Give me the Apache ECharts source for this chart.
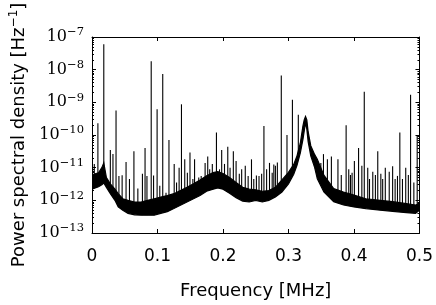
<!DOCTYPE html>
<html><head><meta charset="utf-8">
<script src="https://cdn.jsdelivr.net/npm/echarts@6/dist/echarts.min.js"></script>
<style>html,body{margin:0;padding:0;background:#fff}#c{width:436px;height:305px}</style>
</head><body><div id="c"></div>
<script>
// Noise floor envelope (MHz, Hz^-1)
const bandFreq = [0.000,0.005,0.010,0.015,0.018,0.022,0.028,0.035,0.040,0.047,0.055,0.065,0.075,0.085,0.095,0.105,0.115,0.125,0.135,0.145,0.155,0.165,0.175,0.185,0.192,0.200,0.210,0.220,0.230,0.240,0.250,0.260,0.270,0.280,0.290,0.300,0.308,0.313,0.318,0.322,0.324,0.326,0.328,0.330,0.334,0.340,0.344,0.354,0.369,0.384,0.400,0.418,0.440,0.459,0.480,0.494,0.500];
const bandLow  = [2.2e-12,2.4e-12,2.6e-12,3.0e-12,3.4e-12,2.5e-12,1.6e-12,1.0e-12,6.3e-13,5.0e-13,4.0e-13,3.6e-13,3.5e-13,3.5e-13,3.5e-13,4.0e-13,4.5e-13,5.6e-13,7.1e-13,8.9e-13,1.12e-12,1.4e-12,1.9e-12,2.2e-12,2.4e-12,2.2e-12,1.66e-12,1.2e-12,9.5e-13,8.9e-13,1.0e-12,8.9e-13,1.0e-12,1.26e-12,1.8e-12,3.2e-12,6.3e-12,1.17e-11,2.8e-11,7.2e-11,1.3e-10,2.4e-10,1.5e-10,6.3e-11,2.3e-11,1.0e-11,4.6e-12,1.8e-12,9.1e-13,7.2e-13,6.3e-13,5.6e-13,5.0e-13,4.6e-13,4.2e-13,4.0e-13,5.0e-13];
const bandHigh = [5.8e-12,6.5e-12,7.0e-12,1.0e-11,1.4e-11,5.0e-12,3.2e-12,2.2e-12,1.6e-12,1.12e-12,1.0e-12,8.9e-13,8.9e-13,1.0e-12,1.12e-12,1.26e-12,1.4e-12,1.6e-12,2.0e-12,2.5e-12,3.2e-12,4.2e-12,5.6e-12,7.1e-12,7.6e-12,6.6e-12,5.0e-12,3.5e-12,2.5e-12,2.2e-12,2.1e-12,1.9e-12,2.0e-12,2.5e-12,4.2e-12,7.2e-12,1.26e-11,2.3e-11,5.6e-11,1.86e-10,2.9e-10,3.7e-10,2.9e-10,1.26e-10,4.7e-11,2.5e-11,1.8e-11,5.9e-12,2.3e-12,1.8e-12,1.45e-12,1.12e-12,1.0e-12,9.1e-13,7.9e-13,7.2e-13,7.9e-13];
// Narrow spectral lines (MHz, Hz^-1)
const spikeFreq = [0.0035,0.009,0.018,0.028,0.032,0.0367,0.0411,0.046,0.052,0.0572,0.064,0.070,0.077,0.081,0.0839,0.0904,0.094,0.0994,0.1035,0.108,0.113,0.1175,0.1255,0.1291,0.133,0.1366,0.1416,0.1456,0.1496,0.154,0.1566,0.163,0.1667,0.1727,0.1767,0.1797,0.1837,0.190,0.1947,0.198,0.2023,0.2073,0.2108,0.2158,0.220,0.2249,0.2285,0.234,0.2384,0.2435,0.247,0.251,0.255,0.259,0.2625,0.2666,0.271,0.2751,0.2776,0.280,0.283,0.289,0.2977,0.306,0.315,0.3394,0.3469,0.3494,0.3534,0.3594,0.3655,0.3755,0.3806,0.388,0.392,0.3946,0.3971,0.4006,0.407,0.412,0.4157,0.421,0.4237,0.4287,0.4327,0.4363,0.441,0.4438,0.4478,0.4538,0.459,0.4628,0.4664,0.470,0.474,0.479,0.483,0.4864,0.4914,0.4965];
const spikePeak = [1.3e-11,2.3e-10,6e-8,3.5e-11,2.6e-11,5.6e-10,5.6e-12,5.9e-12,1.5e-11,4.5e-12,3.2e-11,2.3e-12,6.5e-12,4e-11,5.6e-12,1.8e-8,5.8e-12,6.1e-10,2.8e-12,7.4e-9,1.7e-12,7e-11,1.3e-11,3.5e-12,1e-11,8.7e-10,1.8e-11,7e-12,2.9e-11,4.5e-12,1.8e-11,5e-12,5.6e-12,1.4e-11,2.2e-11,8.9e-12,1.3e-11,1.2e-10,8.9e-12,3.5e-11,1.3e-11,4.4e-11,1e-11,3.2e-11,1.6e-11,6.5e-12,8.9e-12,1.15e-11,5.6e-12,1.8e-11,4.5e-12,5.8e-12,5.6e-12,6.5e-12,1.9e-10,9e-12,1.4e-11,7e-12,1.26e-11,1.15e-11,1.45e-11,6.6e-9,1e-10,1.2e-9,4.2e-10,2.5e-11,1.1e-11,1.4e-11,2.6e-11,1.8e-11,2.2e-11,1.8e-11,6e-12,2e-10,8.9e-12,6e-12,7e-12,1.6e-11,4e-11,1.15e-11,2.1e-9,1e-11,4.5e-12,7.5e-12,6e-12,3.2e-11,6.5e-12,4.5e-12,1e-11,7.5e-12,1.1e-11,4.5e-12,5.6e-12,1.2e-10,4.5e-12,1.0e-11,6e-12,1.7e-9,3.5e-12,1e-10];
const xTickLabels = ['0','0.1','0.2','0.3','0.4','0.5'];
const yTickExps = ['−13','−12','−11','−10','−9','−8','−7'];

const Y_MIN = 1e-13, Y_MAX = 1e-7;
const chart = echarts.init(document.getElementById('c'));
const sans = 'DejaVu Sans', serif = 'DejaVu Serif';
const bandData = bandFreq.map((f,i)=>[f,bandLow[i],bandHigh[i]]);
const spikeData = spikeFreq.map((f,i)=>[f,spikePeak[i]]);

function yLabel(v){
  const e = Math.round(Math.log10(v));
  return '{b|10}{s|' + yTickExps[e + 13] + '}';
}
const xAxisBase = {
  type:'value', min:0, max:0.5, interval:0.1, z:10,
  axisLine:{show:true,onZero:false,lineStyle:{color:'#000',width:1}},
  axisTick:{show:true,inside:true,length:4,lineStyle:{color:'#000'}},
  splitLine:{show:false}
};
const yAxisBase = {
  type:'log', logBase:10, min:Y_MIN, max:Y_MAX, interval:1, z:10,
  axisLine:{show:true,onZero:false,lineStyle:{color:'#000',width:1}},
  axisTick:{show:true,inside:true,length:4,lineStyle:{color:'#000'}},
  minorTick:{show:true,splitNumber:9,length:2,lineStyle:{color:'#000'}},
  splitLine:{show:false}
};
chart.setOption({
  animation:false,
  backgroundColor:'#fff',
  grid:{left:88,right:16,top:37,bottom:70},
  xAxis:[
    Object.assign({}, xAxisBase, {position:'bottom',
      name:'Frequency [MHz]', nameLocation:'middle', nameGap:49,
      nameTextStyle:{fontFamily:sans,fontSize:18,color:'#000'},
      axisLabel:{show:true,margin:15,fontFamily:sans,fontSize:17,color:'#000',
        formatter:(v)=>xTickLabels[Math.round(v*10)]}}),
    Object.assign({}, xAxisBase, {position:'top', axisLabel:{show:false}})
  ],
  yAxis:[
    Object.assign({}, yAxisBase, {position:'left',
      name:'Power spectral density [Hz{sup|−1}]', nameLocation:'middle', nameGap:62, nameRotate:90,
      nameTextStyle:{fontFamily:sans,fontSize:18,color:'#000',
        rich:{sup:{fontFamily:sans,fontSize:12,color:'#000',padding:[0,0,10,0]}}},
      axisLabel:{show:true,margin:8,formatter:yLabel,
        rich:{b:{fontFamily:serif,fontSize:16,color:'#000'},
              s:{fontFamily:serif,fontSize:11.5,color:'#000',padding:[0,0,9,0]}}}}),
    Object.assign({}, yAxisBase, {position:'right', axisLabel:{show:false}})
  ],
  series:[
    {
      type:'custom', name:'lines', z:2, clip:true, silent:true,
      data:spikeData, encode:{x:0,y:1},
      renderItem:(params, api)=>{
        const f = api.value(0), p = api.value(1);
        const a = api.coord([f, Y_MIN]), b = api.coord([f, p]);
        return {type:'line', shape:{x1:a[0],y1:a[1],x2:b[0],y2:b[1]},
          style:{stroke:'#000',lineWidth:1.1}};
      }
    },
    {
      type:'custom', name:'mask', z:3, clip:true, silent:true,
      data:bandData, encode:{x:0,y:1},
      renderItem:(params, api)=>{
        if (params.dataIndex !== 0) return null;
        const pts = bandData.map(d=>api.coord([d[0], d[1]]));
        pts.push(api.coord([bandData[bandData.length-1][0], Y_MIN]));
        pts.push(api.coord([bandData[0][0], Y_MIN]));
        return {type:'polygon', shape:{points:pts}, style:{fill:'#fff',stroke:'#fff',lineWidth:1}};
      }
    },
    {
      type:'custom', name:'band', z:4, clip:true, silent:true,
      data:bandData, encode:{x:0,y:[1,2]},
      renderItem:(params, api)=>{
        if (params.dataIndex !== 0) return null;
        const up = bandData.map(d=>api.coord([d[0], d[2]]));
        const lo = bandData.map(d=>api.coord([d[0], d[1]])).reverse();
        return {type:'polygon', shape:{points:up.concat(lo)}, style:{fill:'#000',stroke:'#000',lineWidth:1.2}};
      }
    }
  ]
});
</script></body></html>
